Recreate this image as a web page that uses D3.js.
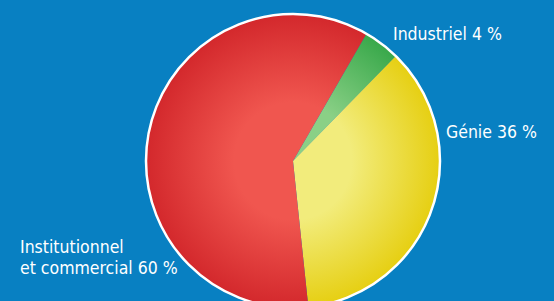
<!DOCTYPE html>
<html>
<head>
<meta charset="utf-8">
<script src="https://cdn.jsdelivr.net/npm/d3@7"></script>
<style>
  html, body { margin: 0; padding: 0; background: #0880c2; }
  svg { display: block; }
</style>
</head>
<body>
<script>
// données du graphique
var categories = ["Industriel", "Génie", "Institutionnel et commercial"];
var values = [4, 36, 60];
var labels = [["Industriel 4 %"], ["Génie 36 %"], ["Institutionnel", "et commercial 60 %"]];
var colors = [
  { inner: "#8ad086", outer: "#38a84a" },
  { inner: "#f2ec7c", outer: "#e6cf12" },
  { inner: "#f0564f", outer: "#d3282c" }
];

var w = 554, h = 301;
var cx = 293, cy = 161, r = 147;

var svg = d3.select("body").append("svg")
  .attr("width", w)
  .attr("height", h);

svg.append("rect")
  .attr("width", w)
  .attr("height", h)
  .attr("fill", "#0880c2");

var defs = svg.append("defs");
colors.forEach(function (c, i) {
  var g = defs.append("radialGradient")
    .attr("id", "grad" + i)
    .attr("gradientUnits", "userSpaceOnUse")
    .attr("cx", 0).attr("cy", 0)
    .attr("r", r);
  g.append("stop").attr("offset", "0%").attr("stop-color", c.inner);
  g.append("stop").attr("offset", "40%").attr("stop-color", c.inner);
  g.append("stop").attr("offset", "100%").attr("stop-color", c.outer);
});

var start = 30 * Math.PI / 180;
var pie = d3.pie().sort(null).startAngle(start).endAngle(start + 2 * Math.PI);
var arc = d3.arc().innerRadius(0).outerRadius(r);

var g = svg.append("g").attr("transform", "translate(" + cx + "," + cy + ")");

g.selectAll("path.slice")
  .data(pie(values))
  .enter()
  .append("path")
  .attr("class", "slice")
  .attr("d", arc)
  .attr("fill", function (d, i) { return "url(#grad" + i + ")"; });

g.append("circle")
  .attr("r", r)
  .attr("fill", "none")
  .attr("stroke", "#ffffff")
  .attr("stroke-width", 2.5);

// étiquettes
var labelPos = [[393, 40], [446, 138], [20, 253]];
labels.forEach(function (lines, i) {
  var t = svg.append("text")
    .attr("x", labelPos[i][0])
    .attr("y", labelPos[i][1])
    .attr("font-family", "'Liberation Sans Narrow', 'DejaVu Sans Condensed', sans-serif")
    .attr("font-size", "17.5px")
    .attr("fill", "#ffffff");
  lines.forEach(function (line, j) {
    t.append("tspan")
      .attr("x", labelPos[i][0])
      .attr("dy", j === 0 ? 0 : 21)
      .text(line);
  });
});
</script>
</body>
</html>
